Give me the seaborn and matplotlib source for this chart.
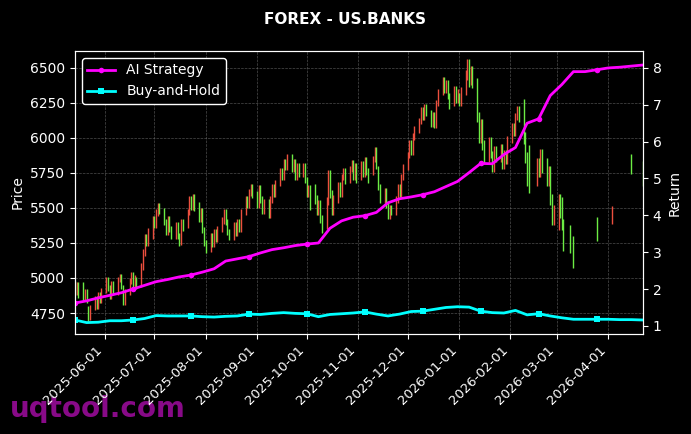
import numpy as np
import pandas as pd
import seaborn as sns
import matplotlib.pyplot as plt
import matplotlib.dates as mdates

# daily bars (business days 2025-05-14 .. 2026-04-22), None = no bar
opens = [
    4960, 4900, 4950,              # wk of 05-12
    4950, 4860, 4900, 4780, 4720,  # 05-19
    4790, 4850, 4800, 4880, 4840,  # 05-26
    4910, 4990, 4930, 4870, 4960,  # 06-02
    4900, 4990, 5010, 4930, 4830,  # 06-09
    4900, 4980, 5020, 4950, 4990,  # 06-16
    4960, 5080, 5180, 5290, 5250,  # 06-23
    5300, 5420, 5380, 5470, 5510,  # 06-30
    5480, 5400, 5330, 5420, 5350,  # 07-07
    5300, 5380, 5300, 5260, 5400,  # 07-14
    5380, 5470, 5560, 5510, 5580,  # 07-21
    5520, 5420, 5480, 5340, 5250,  # 07-28
    5210, 5300, 5240, 5330, 5280,  # 08-04
    5350, 5410, 5470, 5400, 5330,  # 08-11
    5290, 5380, 5320, 5400, 5350,  # 08-18
    5470, 5560, 5520, 5610, 5650,  # 08-25
    5600, 5520, 5640, 5560, 5480,  # 09-01
    5540, 5450, 5560, 5650, 5600,  # 09-08
    5680, 5760, 5720, 5830, 5790,  # 09-15
    5860, 5780, 5830, 5720, 5800,  # 09-22
    5740, 5800, 5700, 5600, 5640,  # 09-29
    5640, 5560, 5480, 5530, 5420,  # 10-06
    5380, 5550, 5740, 5600, 5480,  # 10-13
    5560, 5660, 5600, 5720, 5760,  # 10-20
    5700, 5780, 5820, 5720, 5800,  # 10-27
    5720, 5810, 5740, 5840, 5760,  # 11-03
    5760, 5850, 5910, 5780, 5650,  # 11-10
    5560, 5620, 5520, 5440, 5500,  # 11-17
    5470, 5560, 5650, 5600, 5720,  # 11-24
    5790, 5880, 5960, 5900, 6010,  # 12-01
    6060, 6120, 6200, 6150, 6220,  # 12-08
    6180, 6100, 6160, 6090, 6250,  # 12-15
    6330, 6410, 6340, 6390, 6300,  # 12-22
    6250, 6350, 6270, 6300, 6250,  # 12-29
    6340, 6450, 6530, 6410, 6480,  # 01-05
    6390, 6150, 6000, 6100, 5950,  # 01-12
    5850, 5980, 5880, 5780, 5920,  # 01-19
    5850, 5930, 5800, 5890, 5840,  # 01-26
    5990, 6080, 6040, 6150, 6200,  # 02-02
    6240, 6000, 5860, 5910, None,  # 02-09
    None, 5700, 5820, 5760, 5880,  # 02-16
    5820, 5700, 5760, 5560, 5420,  # 02-23
    5380, 5560, 5540, 5380, None,  # 03-02
    5340, None, 5260, None, None,  # 03-09
    None, None, None, None, None,  # 03-16
    None, None, 5410, None, None,  # 03-23
    None, None, None, None, 5410,  # 03-30
    None, None, None, None, None,  # 04-06
    None, None, 5860, None, None,  # 04-13
    None, None, 5810,              # 04-20
]
closes = [
    4900, 4950, 4880,
    4860, 4900, 4840, 4710, 4790,
    4850, 4800, 4880, 4840, 4910,
    4990, 4930, 4870, 4960, 4900,
    4990, 5010, 4940, 4830, 4900,
    4980, 5020, 4950, 5000, 4940,
    5080, 5180, 5290, 5250, 5330,
    5420, 5380, 5470, 5510, 5480,
    5400, 5330, 5420, 5350, 5300,
    5380, 5300, 5250, 5400, 5360,
    5470, 5560, 5510, 5580, 5500,
    5420, 5480, 5340, 5250, 5200,
    5300, 5240, 5330, 5280, 5350,
    5410, 5470, 5400, 5330, 5290,
    5380, 5320, 5400, 5350, 5470,
    5560, 5520, 5610, 5650, 5590,
    5520, 5640, 5560, 5480, 5540,
    5450, 5560, 5650, 5600, 5680,
    5760, 5720, 5830, 5790, 5860,
    5780, 5830, 5720, 5800, 5740,
    5800, 5700, 5600, 5640, 5510,
    5560, 5480, 5530, 5420, 5350,
    5550, 5740, 5600, 5480, 5560,
    5660, 5600, 5720, 5760, 5690,
    5780, 5820, 5720, 5800, 5700,
    5810, 5740, 5840, 5760, 5700,
    5850, 5910, 5800, 5650, 5560,
    5620, 5520, 5440, 5500, 5470,
    5560, 5650, 5600, 5720, 5790,
    5880, 5960, 5900, 6010, 6060,
    6120, 6200, 6150, 6220, 6180,
    6100, 6160, 6090, 6250, 6330,
    6410, 6340, 6390, 6300, 6230,
    6350, 6270, 6330, 6250, 6340,
    6450, 6530, 6400, 6480, 6390,
    6150, 6000, 6100, 5950, 5850,
    5980, 5880, 5780, 5920, 5850,
    5930, 5800, 5890, 5840, 5990,
    6080, 6040, 6150, 6200, 6140,
    6000, 5860, 5700, 5650, None,
    None, 5820, 5760, 5880, 5790,
    5700, 5760, 5560, 5420, 5480,
    5560, 5470, 5380, 5230, None,
    5220, None, 5110, None, None,
    None, None, None, None, None,
    None, None, 5290, None, None,
    None, None, None, None, 5490,
    None, None, None, None, None,
    None, None, 5770, None, None,
    None, None, 5680,
]
# typical wick length beyond the body, one value per week
wick = [20, 20, 20, 20, 20, 20, 25, 25, 22, 22,
        22, 22, 22, 22, 22, 22, 22, 22, 22, 22,
        22, 30, 30, 22, 22, 22, 22, 22, 22, 22,
        22, 22, 22, 22, 35, 35, 25, 25, 25, 40,
        40, 40, 40, 40, 25, 25, 25, 25, 25, 25]

# weekly return curves (every Wednesday 2025-05-14 .. 2026-04-22)
ai_ret = [1.62, 1.68, 1.76, 1.83, 1.90, 2.00, 2.10, 2.20, 2.26, 2.33,
          2.38, 2.46, 2.55, 2.76, 2.82, 2.88, 2.98, 3.07, 3.12, 3.18,
          3.22, 3.25, 3.65, 3.85, 3.95, 3.99, 4.08, 4.34, 4.45, 4.50,
          4.56, 4.64, 4.78, 4.92, 5.16, 5.41, 5.40, 5.65, 5.84, 6.50,
          6.62, 7.25, 7.55, 7.90, 7.90, 7.95, 8.00, 8.02, 8.05, 8.08]
bh_ret = [1.16, 1.09, 1.10, 1.14, 1.14, 1.16, 1.20, 1.28, 1.27, 1.27,
          1.27, 1.25, 1.24, 1.26, 1.27, 1.32, 1.31, 1.34, 1.36, 1.34,
          1.33, 1.25, 1.31, 1.33, 1.35, 1.38, 1.32, 1.27, 1.32, 1.39,
          1.40, 1.45, 1.50, 1.52, 1.51, 1.40, 1.36, 1.35, 1.42, 1.30,
          1.33, 1.27, 1.22, 1.18, 1.18, 1.18, 1.18, 1.17, 1.17, 1.16]

days = pd.bdate_range('2025-05-14', '2026-04-22')
bars = pd.DataFrame({'date': days,
                     'open': np.array(opens, dtype=float),
                     'close': np.array(closes, dtype=float)})
bars['wick'] = np.array(wick)[(bars['date'] - pd.Timestamp('2025-05-12')).dt.days // 7]
bars = bars.dropna()
bars['lo'] = bars[['open', 'close']].min(axis=1)
bars['hi'] = bars[['open', 'close']].max(axis=1)

ret = pd.DataFrame({'date': pd.date_range('2025-05-14', periods=len(ai_ret), freq='7D'),
                    'ai': ai_ret, 'bh': bh_ret})

plt.style.use('dark_background')
fig, ax = plt.subplots(figsize=(6.91, 4.34), dpi=100)
fig.subplots_adjust(left=0.1085, right=0.9305, top=0.8825, bottom=0.2304)

# price bars: red = up, green = down
cols = np.where(bars['close'] >= bars['open'], '#ec4f3e', '#6cec44')
ax.vlines(bars['date'], bars['lo'] - bars['wick'], bars['hi'] + bars['wick'], colors=cols, lw=1.0)
ax.set_ylim(4600, 6621)
ax.set_ylabel('Price', fontsize=10)
ax.grid(True, color='gray', ls='--', lw=0.5, alpha=0.6)

ax2 = ax.twinx()
sns.lineplot(data=ret, x='date', y='ai', ax=ax2, color='#ff00ff', lw=2,
             marker='o', markersize=4, markevery=5, markeredgewidth=0, label='AI Strategy')
sns.lineplot(data=ret, x='date', y='bh', ax=ax2, color='#00ffff', lw=2,
             marker='s', markersize=4, markevery=5, markeredgewidth=0, label='Buy-and-Hold')
ax2.set_ylim(0.78, 8.46)
ax2.set_ylabel('Return', fontsize=10)
ax2.grid(False)
ax2.legend(loc='upper left', facecolor='black', edgecolor='white', framealpha=1, fontsize=10)

ax.set_xlim(days[0], days[-1])
ax.xaxis.set_major_locator(mdates.MonthLocator())
ax.xaxis.set_major_formatter(mdates.DateFormatter('%Y-%m-%d'))
ax.set_xlabel('')
ax2.set_xlabel('')
plt.setp(ax.get_xticklabels(), rotation=45, ha='right', fontsize=9.5)

fig.suptitle('FOREX - US.BANKS', fontsize=11, fontweight='bold', color='white', y=0.972)
# watermark sits behind the tick labels
fig.text(0.014, 0.057, 'uqtool.com', color='#880a88', fontsize=20, fontweight='bold',
         va='center', zorder=-1)

fig.savefig('out.png', dpi=100)
